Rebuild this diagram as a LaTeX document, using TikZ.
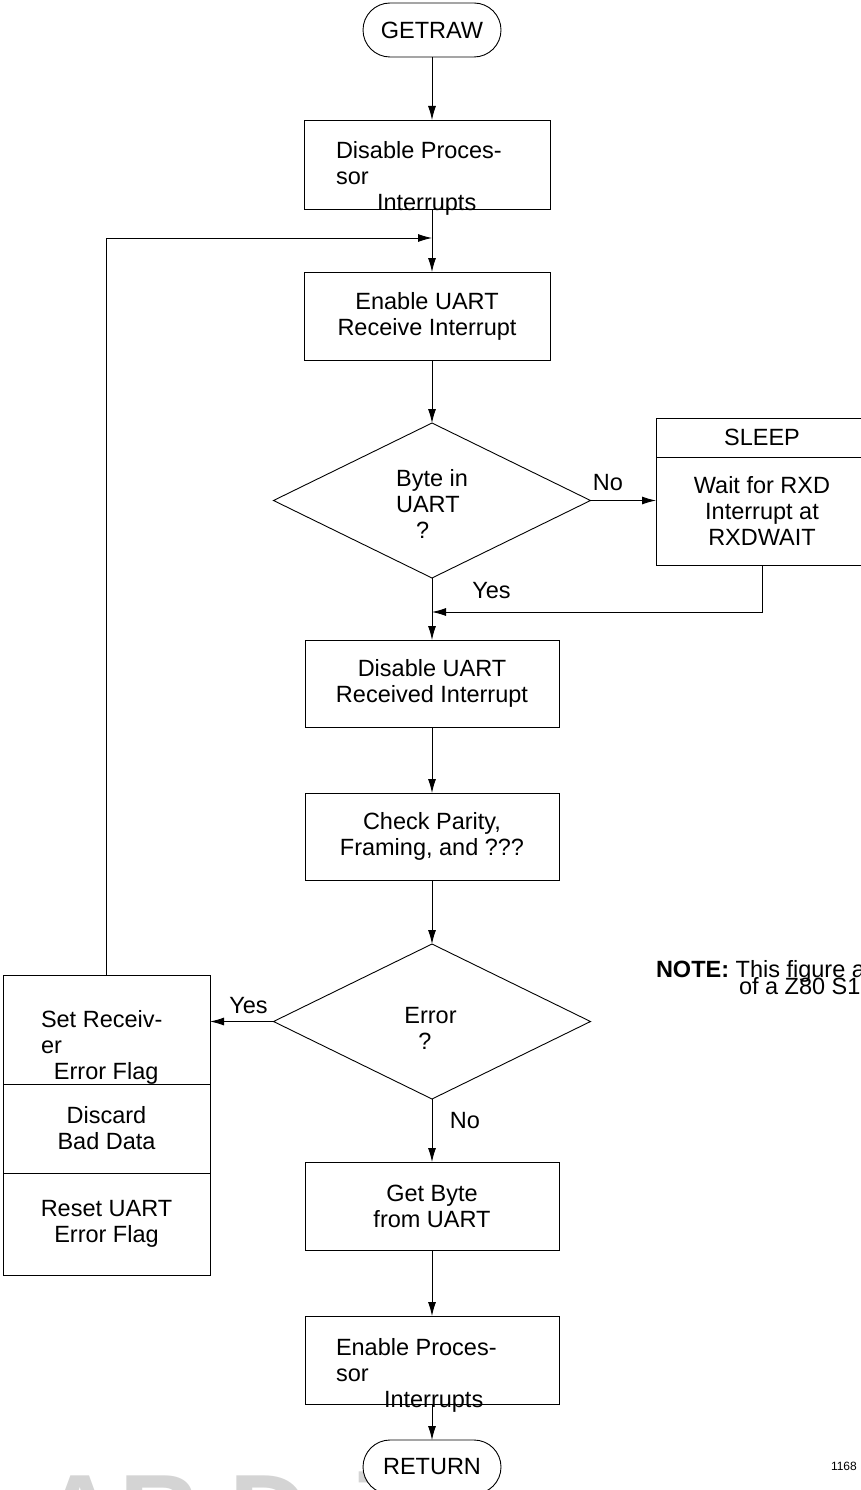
\documentclass[tikz,border=0pt]{standalone}
\usepackage{fontspec}
\setmainfont{Liberation Sans}
\usetikzlibrary{positioning,shapes.geometric,arrows.meta}

\begin{document}
\begin{tikzpicture}[x=1pt,y=-1pt,line width=0.9pt,>={Latex[length=14pt,width=8pt]}]
    \tikzstyle{every node}=[font=\fontsize{23.5}{26}\selectfont,inner sep=0,outer sep=0]
    \tikzstyle{term}=[draw,rectangle,rounded corners=27,minimum width=138,minimum height=54,fill=white]
    \tikzstyle{proc}=[draw,rectangle,minimum width=254,minimum height=88,align=center]
    \tikzstyle{decide}=[draw,diamond,minimum width=317,minimum height=155]
    \tikzstyle{side}=[draw,rectangle,minimum width=207,align=center]
    \tikzstyle{lbl}=[align=left]

    \useasboundingbox (0,0) rectangle (861,1490);

    % grey mark along the bottom edge
    \node[anchor=base west,text=black!17,font=\fontsize{110}{110}\selectfont\bfseries] (wmark) at (40,1551) {AR Drives};

    % main column
    \node[term] (getraw) at (432,30) {GETRAW};
    \node[proc,minimum width=246,minimum height=89,below=63pt of getraw,xshift=-5pt] (dispi) {};
    \node[proc,minimum width=246,below=63pt of dispi] (enrx) {Enable UART\\Receive Interrupt};
    \node[decide,below=63pt of enrx,xshift=5pt] (byte) {};
    \node[proc,minimum height=87,below=62pt of byte] (disrx) {Disable UART\\Received Interrupt};
    \node[proc,minimum height=87,below=66pt of disrx] (chk) {Check Parity,\\Framing, and ???};
    \node[decide,below=64pt of chk] (errq) {};
    \node[proc,below=63pt of errq] (getb) {Get Byte\\from UART};
    \node[proc,below=66pt of getb] (enpi) {};
    \node[term,below=36pt of enpi] (retn) {RETURN};

    % texts that sit loose in their boxes
    \node[lbl,anchor=north west] (dispitxt) at (336,141.5) {Disable Proces-\\sor\\\hspace*{41pt}Interrupts};
    \node[lbl] (bytetxt) at (432,504) {Byte in\\UART\\\hspace*{20pt}?};
    \node[lbl] (errtxt) at (430.5,1028) {Error\\\hspace*{14pt}?};
    \node[lbl,anchor=north west] (enpitxt) at (336,1338.5) {Enable Proces-\\sor\\\hspace*{48pt}Interrupts};

    % sleep box on the right
    \node[draw,rectangle,minimum width=212,minimum height=39] (sleep) at (762,437.5) {SLEEP};
    \node[draw,rectangle,minimum width=212,minimum height=108,align=center,below=0pt of sleep] (wait) {Wait for RXD\\Interrupt at\\RXDWAIT};

    % error handling stack on the left
    \node[side,minimum height=109] (seterr) at (106.5,1029.5) {};
    \node[side,minimum height=89,below=0pt of seterr] (discard) {Discard\\Bad Data};
    \node[side,minimum height=102,below=0pt of discard] (reseterr) {Reset UART\\Error Flag};
    \node[lbl,anchor=north west] (seterrtxt) at (41,1010.5) {Set Receiv-\\er\\\hspace*{13pt}Error Flag};

    % branch labels
    \node (nolbl) at (608,482.5) {No};
    \node (yeslbl) at (491.5,590.5) {Yes};
    \node (yeserr) at (248.5,1005.5) {Yes};
    \node (noerr) at (465,1121) {No};

    % note and figure number
    \node[anchor=base west] (note1) at (656,977) {\textbf{NOTE:} This figure a};
    \node[anchor=base west] (note2) at (739,994) {of a Z80 S1};
    \node[anchor=base west,font=\fontsize{12}{14}\selectfont] (fignum) at (831,1470) {1168};

    % connectors
    \coordinate (joint) at (432,238);
    \coordinate (yesjoin) at (432,612);
    \draw[->] (getraw) -- (getraw |- dispi.north);
    \draw (getraw |- dispi.south) -- (joint);
    \draw[->] (joint) -- (getraw |- enrx.north);
    \draw[->] (getraw |- enrx.south) -- (byte);
    \draw[->] (byte.east) -- (byte.east -| wait.west);
    \draw[->] (wait.south) |- (yesjoin);
    \draw[->] (byte) -- (disrx);
    \draw[->] (disrx) -- (chk);
    \draw[->] (chk) -- (errq);
    \draw[->] (errq.west) -- (errq.west -| seterr.east);
    \draw[->] (seterr.north) |- (joint);
    \draw[->] (errq) -- (getb);
    \draw[->] (getb) -- (enpi);
    \draw[->] (enpi) -- (retn);
\end{tikzpicture}
\end{document}
